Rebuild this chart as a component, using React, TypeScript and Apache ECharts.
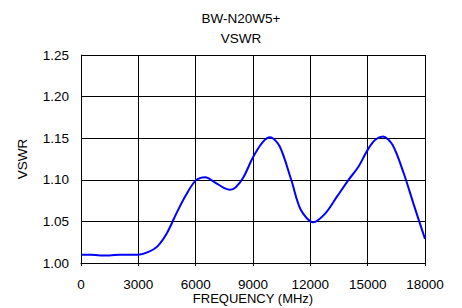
import React, { useEffect, useRef } from "react";
import * as echarts from "echarts";

const titleLines = ["BW-N20W5+", "VSWR"];
const xTicks = [0, 3000, 6000, 9000, 12000, 15000, 18000];
const yTicks = [1.0, 1.05, 1.1, 1.15, 1.2, 1.25];
const frequency = [
  0, 500, 1000, 1500, 2000, 2500, 3000, 3500, 4000, 4500, 5000, 5500, 6000,
  6500, 7000, 7500, 7800, 8100, 8500, 9000, 9500, 9900, 10400, 11000, 11500,
  12150, 12800, 13400, 14000, 14500, 15000, 15400, 15800, 16300, 16900, 17400,
  18000,
];
const vswr = [
  1.01, 1.01, 1.009, 1.009, 1.01, 1.01, 1.01, 1.013, 1.02, 1.036, 1.06, 1.082,
  1.099, 1.103, 1.097, 1.09, 1.088, 1.091, 1.103, 1.127, 1.145, 1.151, 1.14,
  1.1, 1.064, 1.049, 1.06, 1.08, 1.1, 1.115, 1.136, 1.148, 1.152, 1.142, 1.107,
  1.071, 1.029,
];

const FONT = "'Liberation Sans', Arial, sans-serif";

export default function App() {
  const ref = useRef<HTMLDivElement>(null);
  useEffect(() => {
    if (!ref.current) return;
    const chart = echarts.init(ref.current, undefined, { renderer: "svg" });
    const data = frequency.map((f, i) => [f, vswr[i]]);
    chart.setOption({
      animation: false,
      backgroundColor: "#ffffff",
      textStyle: { fontFamily: FONT },
      graphic: titleLines.map((t, i) => ({
        type: "text",
        x: 241,
        y: 18 + i * 20,
        style: {
          text: t,
          fill: "#000",
          font: `13.5px ${FONT}`,
          textAlign: "center",
          textVerticalAlign: "middle",
        },
      })),
      grid: {
        left: 81,
        right: 37,
        top: 55,
        bottom: 45,
        containLabel: false,
        outerBoundsMode: "none",
      },
      xAxis: {
        type: "value",
        min: xTicks[0],
        max: xTicks[xTicks.length - 1],
        interval: 3000,
        name: "FREQUENCY (MHz)",
        nameLocation: "middle",
        nameGap: 30.5,
        nameMoveOverlap: false,
        nameTextStyle: {
          color: "#000",
          fontSize: 13,
          fontFamily: FONT,
          lineHeight: 10,
        },
        axisLine: { show: true, lineStyle: { color: "#000", width: 1 } },
        axisTick: { show: true, length: 3, lineStyle: { color: "#000" } },
        axisLabel: {
          color: "#000",
          fontSize: 13.5,
          fontFamily: FONT,
          lineHeight: 10,
          margin: 16,
          formatter: (v: number) => String(v),
        },
        splitLine: { show: true, lineStyle: { color: "#000", width: 1 } },
      },
      yAxis: {
        type: "value",
        min: yTicks[0],
        max: yTicks[yTicks.length - 1],
        interval: 0.05,
        name: "VSWR",
        nameLocation: "middle",
        nameRotate: 90,
        nameGap: 52,
        nameMoveOverlap: false,
        nameTextStyle: { color: "#000", fontSize: 13.5, fontFamily: FONT },
        axisLine: { show: true, lineStyle: { color: "#000", width: 1 } },
        axisTick: { show: false },
        axisLabel: {
          color: "#000",
          fontSize: 13.5,
          fontFamily: FONT,
          margin: 12,
          formatter: (v: number) => v.toFixed(2),
        },
        splitLine: { show: true, lineStyle: { color: "#000", width: 1 } },
      },
      series: [
        {
          type: "line",
          data,
          smooth: 0.3,
          showSymbol: false,
          symbol: "none",
          lineStyle: { color: "#0000ff", width: 2 },
        },
      ],
    });
    return () => chart.dispose();
  }, []);
  return (
    <div
      ref={ref}
      style={{ position: "absolute", left: 0, top: 0, width: 462, height: 308 }}
    />
  );
}
